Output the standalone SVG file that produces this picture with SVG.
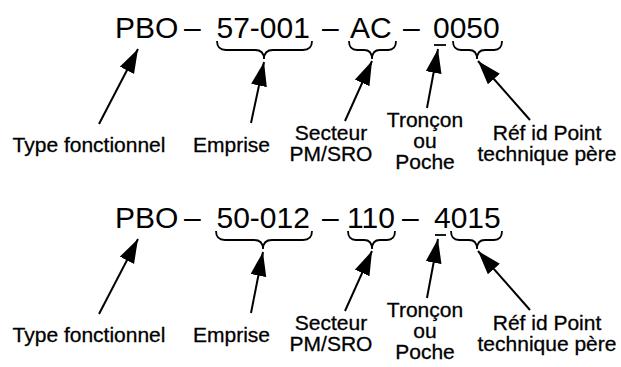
<svg xmlns="http://www.w3.org/2000/svg" width="621" height="367" viewBox="0 0 621 367">
<style>
.t{font-family:"Liberation Sans",Arial,sans-serif;font-size:30px;fill:#000}
.l{font-family:"Liberation Sans",Arial,sans-serif;font-size:21px;fill:#000;stroke:#000;stroke-width:0.3;text-anchor:middle}
.b{fill:none;stroke:#000;stroke-width:1.8}
.a{fill:none;stroke:#000;stroke-width:2;marker-end:url(#ah)}
.u{stroke:#000;stroke-width:1.8}
</style>
<defs>
<marker id="ah" markerUnits="userSpaceOnUse" markerWidth="26" markerHeight="18" refX="24" refY="8" orient="auto">
<path d="M0,0 L24,8 L0,16 z" fill="#000"/>
</marker>
</defs>
<rect width="621" height="367" fill="#fff"/>
<g id="code1">
<text class="t" y="38"><tspan x="115">PBO</tspan><tspan x="184">–</tspan><tspan x="216.5">57-001</tspan><tspan x="322">–</tspan><tspan x="350">AC</tspan><tspan x="403">–</tspan><tspan x="433">0050</tspan></text>
<line class="u" x1="434" y1="45" x2="446" y2="45"/>
<path class="b" d="M217,41 Q217,50 226,50 H255 Q264,50 264,59 Q264,50 273,50 H303 Q312,50 312,41"/>
<path class="b" d="M349,41 Q349,50 357,50 H364 Q372,50 372,59 Q372,50 380,50 H388 Q396,50 396,41"/>
<path class="b" d="M453,41 Q453,50 461,50 H469 Q477,50 477,59 Q477,50 485,50 H494 Q502,50 502,41"/>
</g>
<g id="labels1">
<text class="l" x="89" y="152">Type fonctionnel</text>
<text class="l" x="231.5" y="152">Emprise</text>
<text class="l" x="331" y="140">Secteur</text>
<text class="l" x="331" y="161">PM/SRO</text>
<text class="l" x="425" y="127">Tronçon</text>
<text class="l" x="425" y="148">ou</text>
<text class="l" x="425" y="169">Poche</text>
<text class="l" x="547" y="140">Réf id Point</text>
<text class="l" x="547" y="161">technique père</text>
</g>
<g id="code2">
<text class="t" y="228"><tspan x="115">PBO</tspan><tspan x="184">–</tspan><tspan x="216.5">50-012</tspan><tspan x="322">–</tspan><tspan x="347">110</tspan><tspan x="402">–</tspan><tspan x="434">4015</tspan></text>
<line class="u" x1="435" y1="235" x2="446" y2="235"/>
<path class="b" d="M216,231 Q216,240 225,240 H254 Q263,240 263,249 Q263,240 272,240 H303 Q312,240 312,231"/>
<path class="b" d="M348,231 Q348,240 356,240 H364 Q372,240 372,249 Q372,240 380,240 H387 Q395,240 395,231"/>
<path class="b" d="M451,231 Q451,240 459,240 H469 Q477,240 477,249 Q477,240 485,240 H494 Q502,240 502,231"/>
</g>
<g id="labels2">
<text class="l" x="89" y="342">Type fonctionnel</text>
<text class="l" x="231.5" y="342">Emprise</text>
<text class="l" x="331" y="330">Secteur</text>
<text class="l" x="331" y="351">PM/SRO</text>
<text class="l" x="425" y="317">Tronçon</text>
<text class="l" x="425" y="338">ou</text>
<text class="l" x="425" y="359">Poche</text>
<text class="l" x="547" y="330">Réf id Point</text>
<text class="l" x="547" y="351">technique père</text>
</g>
<g id="connectors">
<line class="a" x1="99" y1="124" x2="138" y2="49"/>
<line class="a" x1="251" y1="123" x2="264" y2="62"/>
<line class="a" x1="345" y1="121" x2="372" y2="61"/>
<line class="a" x1="427" y1="108" x2="438" y2="49"/>
<line class="a" x1="530" y1="120" x2="478" y2="61"/>
<line class="a" x1="99" y1="314" x2="138" y2="239"/>
<line class="a" x1="251" y1="313" x2="263" y2="252"/>
<line class="a" x1="345" y1="311" x2="372" y2="251"/>
<line class="a" x1="427" y1="298" x2="438" y2="239"/>
<line class="a" x1="530" y1="310" x2="478" y2="251"/>
</g>
</svg>
